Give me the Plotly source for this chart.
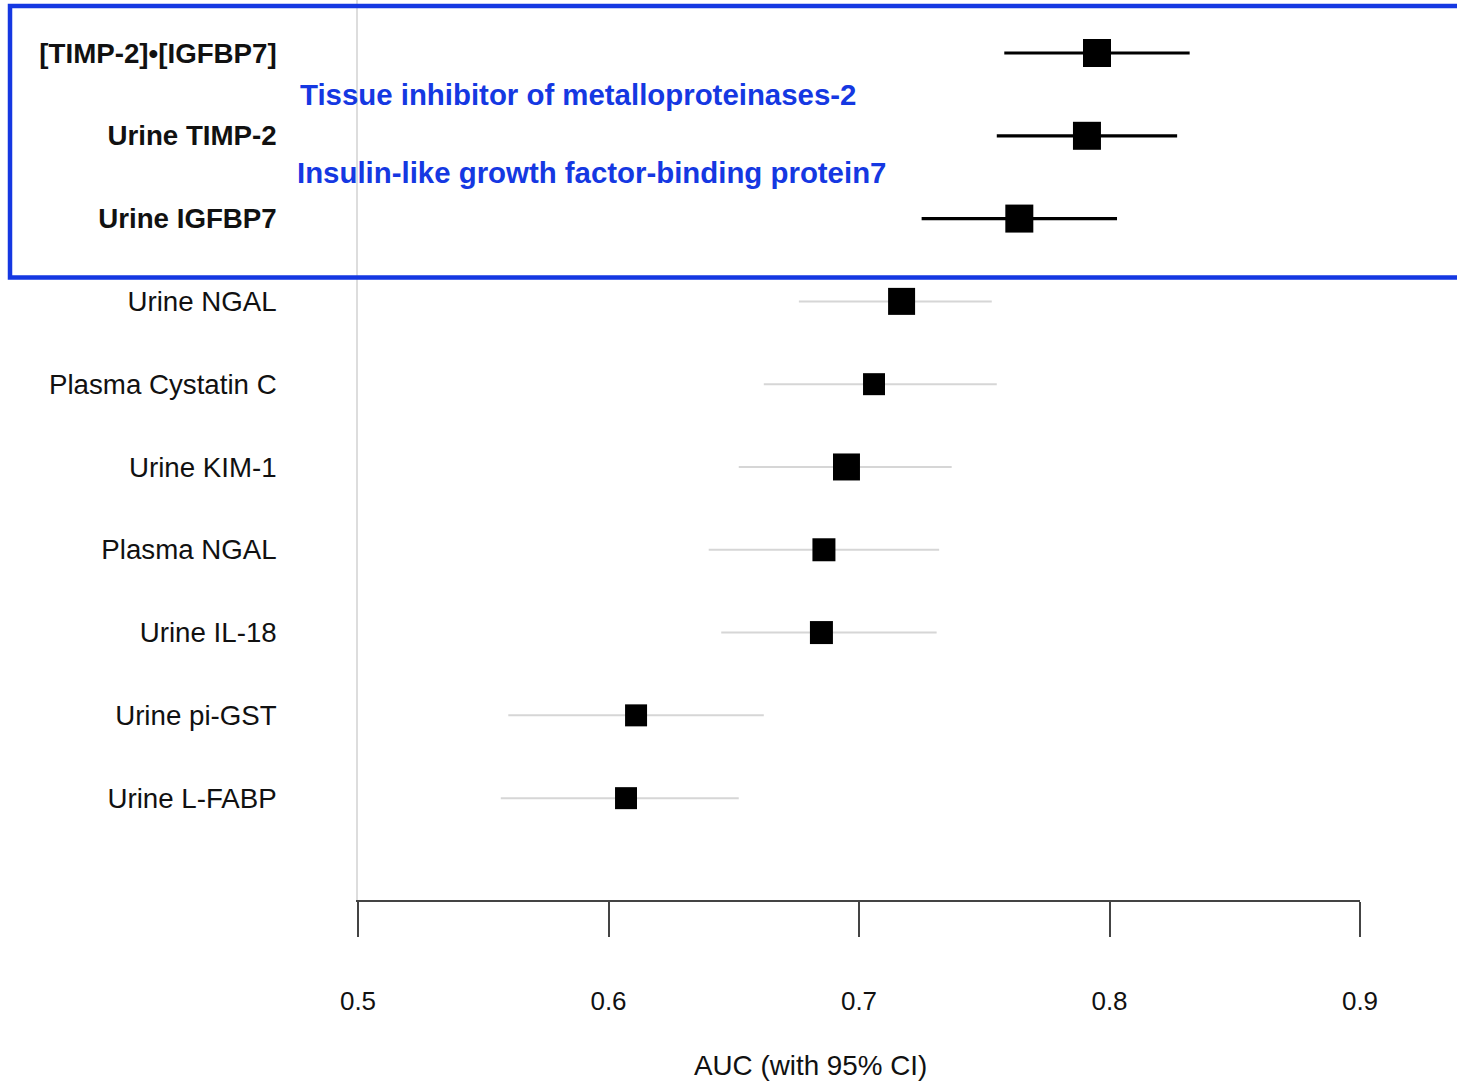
import plotly.graph_objects as go

# ---- data ----
labels = ["[TIMP-2]•[IGFBP7]", "Urine TIMP-2", "Urine IGFBP7", "Urine NGAL",
          "Plasma Cystatin C", "Urine KIM-1", "Plasma NGAL", "Urine IL-18",
          "Urine pi-GST", "Urine L-FABP"]
auc = [0.795, 0.791, 0.764, 0.717, 0.706, 0.695, 0.686, 0.685, 0.611, 0.607]
ci_low = [0.758, 0.755, 0.725, 0.676, 0.662, 0.652, 0.640, 0.645, 0.560, 0.557]
ci_high = [0.832, 0.827, 0.803, 0.753, 0.755, 0.737, 0.732, 0.731, 0.662, 0.652]
weights = [28, 28, 28, 27, 22, 27, 23, 23, 22, 22]   # marker box sizes (px)
highlight_n = 3
tick_vals = [0.5, 0.6, 0.7, 0.8, 0.9]
tick_text = ["0.5", "0.6", "0.7", "0.8", "0.9"]
note1 = "Tissue inhibitor of metalloproteinases-2"
note2 = "Insulin-like growth factor-binding protein7"
x_title = "AUC (with 95% CI)"

FONT = "Liberation Sans, Arial, Helvetica, sans-serif"
BLUE = "#1538e2"

rows = list(range(len(labels)))
fig = go.Figure()

def add_group(idx, color, thick):
    fig.add_trace(go.Scatter(
        x=[auc[i] for i in idx], y=[rows[i] for i in idx], mode="markers",
        marker=dict(symbol="square", size=[weights[i] for i in idx], color="black",
                    opacity=1, line=dict(width=0)),
        error_x=dict(type="data", symmetric=False,
                     array=[ci_high[i] - auc[i] for i in idx],
                     arrayminus=[auc[i] - ci_low[i] for i in idx],
                     color=color, thickness=thick, width=0),
        showlegend=False, hoverinfo="skip", cliponaxis=False))

add_group(list(range(highlight_n, len(labels))), "#d6d6d6", 2)
add_group(list(range(highlight_n)), "black", 3.2)

tick_labels = [f"<b>{l}</b>" if i < highlight_n else l for i, l in enumerate(labels)]

H_PLOT = 900
fig.update_layout(
    width=1457, height=1082,
    margin=dict(l=358, r=97, t=0, b=182),
    paper_bgcolor="white", plot_bgcolor="white",
    font=dict(family=FONT, color="#111111"),
    xaxis=dict(range=[0.5, 0.9], tickvals=tick_vals, ticktext=tick_text,
               showgrid=False, zeroline=False, showline=True, linecolor="#444444",
               linewidth=2, ticks="outside", ticklen=35, tickwidth=1.5,
               tickcolor="#444444", tickfont=dict(size=26, color="#111111"),
               ticklabelstandoff=42, fixedrange=True),
    yaxis=dict(range=[10.23, -0.64], tickvals=rows, ticktext=tick_labels,
               showgrid=False, zeroline=False, showline=True, linecolor="#dddddd",
               linewidth=1.5, ticks="", tickfont=dict(size=27.7, color="#111111"),
               ticklabelstandoff=74, fixedrange=True),
    annotations=[
        dict(text=f"<b>{note1}</b>", xref="paper", yref="paper",
             x=(298 - 358) / 1002, y=1 - 95 / H_PLOT, xanchor="left", yanchor="middle",
             showarrow=False, font=dict(size=29.4, color=BLUE, family=FONT)),
        dict(text=f"<b>{note2}</b>", xref="paper", yref="paper",
             x=(295 - 358) / 1002, y=1 - 173 / H_PLOT, xanchor="left", yanchor="middle",
             showarrow=False, font=dict(size=29.4, color=BLUE, family=FONT)),
        dict(text=x_title, xref="paper", yref="paper",
             x=(810 - 358) / 1002, y=1 - 1065 / H_PLOT, xanchor="center", yanchor="middle",
             showarrow=False, font=dict(size=27.8, color="#111111", family=FONT)),
    ],
    shapes=[dict(type="rect", xref="paper", yref="paper",
                 x0=(10 - 358) / 1002, x1=1.2, y0=1 - 277.5 / H_PLOT, y1=1 - 6 / H_PLOT,
                 line=dict(color=BLUE, width=4.5), fillcolor="rgba(0,0,0,0)", layer="above")],
)

fig.write_html("out.html")
